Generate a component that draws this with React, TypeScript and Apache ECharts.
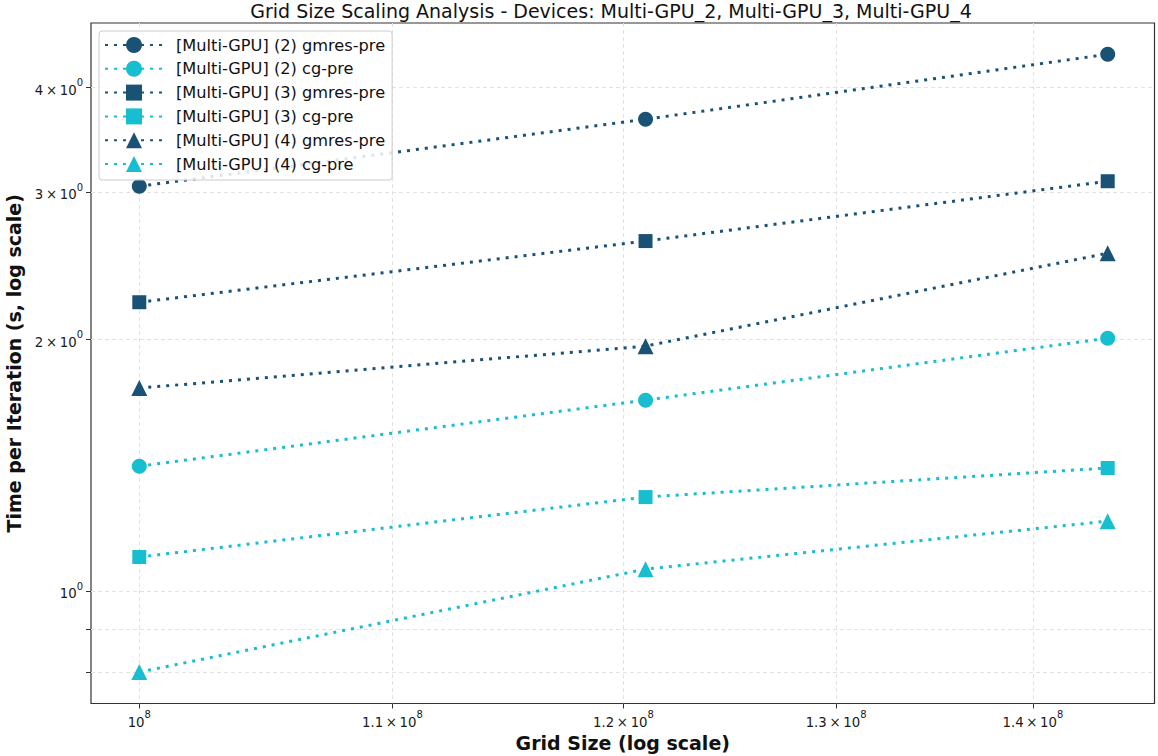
import React, { useEffect, useRef } from 'react';
import * as echarts from 'echarts';

const gridSizes = [1.0e8, 1.21e8, 1.44e8];
const seriesNames = [
  '[Multi-GPU] (2) gmres-pre',
  '[Multi-GPU] (2) cg-pre',
  '[Multi-GPU] (3) gmres-pre',
  '[Multi-GPU] (3) cg-pre',
  '[Multi-GPU] (4) gmres-pre',
  '[Multi-GPU] (4) cg-pre',
];
const gmres2 = [3.047, 3.664, 4.381];
const cg2 = [1.41, 1.691, 2.005];
const gmres3 = [2.214, 2.62, 3.089];
const cg3 = [1.098, 1.295, 1.403];
const gmres4 = [1.748, 1.962, 2.534];
const cg4 = [0.8, 1.062, 1.212];
const seriesValues = [gmres2, cg2, gmres3, cg3, gmres4, cg4];
const seriesSymbols = ['circle', 'circle', 'rect', 'rect', 'triangle', 'triangle'];
const symbolSizes = [15, 15, 14, 14, 16, 16];
const seriesColors = ['#1a5276', '#17becf', '#1a5276', '#17becf', '#1a5276', '#17becf'];

const xTicks = [1.0e8, 1.1e8, 1.2e8, 1.3e8, 1.4e8];
const yTicks = [0.8, 0.9, 1, 2, 3, 4];
const yLabelTicks = [1, 2, 3, 4];

const FONT = '"DejaVu Sans", sans-serif';

function fmtX(v: number): string {
  const m = Math.round((v / 1e8) * 10) / 10;
  if (m === 1) return '{b|10}{s|8}';
  return `{b|${m.toFixed(1)}\u2009×\u200910}{s|8}`;
}
function fmtY(v: number): string {
  const m = Math.round(v * 10) / 10;
  if (m === 1) return '{b|10}{s|0}';
  return `{b|${m}\u2009×\u200910}{s|0}`;
}

const labelRich = {
  b: { fontFamily: FONT, fontSize: 13.3, color: '#1a1a1a', lineHeight: 19, verticalAlign: 'bottom' },
  s: { fontFamily: FONT, fontSize: 10, color: '#1a1a1a', lineHeight: 11, verticalAlign: 'top' },
};

export default function App() {
  const ref = useRef<HTMLDivElement>(null);
  useEffect(() => {
    if (!ref.current) return;
    const chart = echarts.init(ref.current, undefined, { renderer: 'svg' });
    const splitStyle = { show: true, lineStyle: { color: '#e2e2e2', width: 1, type: [4, 3] as any } };
    chart.setOption({
      animation: false,
      backgroundColor: '#ffffff',
      textStyle: { fontFamily: FONT },
      title: {
        text: 'Grid Size Scaling Analysis - Devices: Multi-GPU_2, Multi-GPU_3, Multi-GPU_4',
        left: 611,
        textAlign: 'center',
        top: 0,
        padding: [1, 0, 0, 0],
        textStyle: { fontFamily: FONT, fontSize: 19, fontWeight: 'normal', color: '#111' },
      },
      legend: {
        orient: 'vertical',
        left: 99,
        top: 31,
        padding: [4, 7, 6, 5],
        itemWidth: 58,
        itemHeight: 20,
        itemGap: 3.8,
        backgroundColor: 'rgba(255,255,255,0.85)',
        borderColor: '#cccccc',
        borderWidth: 1,
        borderRadius: 3,
        textStyle: { fontFamily: FONT, fontSize: 16.2, color: '#111', lineHeight: 20, padding: [0, 0, 0, 8] },
        data: seriesNames,
      },
      grid: {
        left: 91,
        top: 23,
        width: 1063.5,
        height: 680.5,
        show: true,
        borderColor: '#333',
        borderWidth: 1.2,
        backgroundColor: 'transparent',
        containLabel: false,
        outerBoundsMode: 'none',
      },
      xAxis: {
        type: 'log',
        logBase: 10,
        min: 0.98198e8,
        max: 1.4656e8,
        name: 'Grid Size (log scale)',
        nameLocation: 'middle',
        nameGap: 29,
        nameTextStyle: { fontFamily: FONT, fontSize: 19, fontWeight: 'bold', color: '#111' },
        axisLine: { show: false },
        axisTick: { show: true, customValues: xTicks, length: 5, inside: false, lineStyle: { color: '#333' } },
        axisLabel: {
          customValues: xTicks,
          formatter: fmtX,
          margin: 6,
          rich: labelRich,
        },
        splitLine: splitStyle,
        minorTick: { show: false },
        minorSplitLine: { show: false },
      },
      yAxis: {
        type: 'log',
        logBase: 10,
        min: 0.7337,
        max: 4.775,
        name: 'Time per Iteration (s, log scale)',
        nameLocation: 'middle',
        nameGap: 57,
        nameTextStyle: { fontFamily: FONT, fontSize: 19, fontWeight: 'bold', color: '#111' },
        axisLine: { show: false },
        axisTick: { show: true, customValues: yTicks, length: 5, inside: false, lineStyle: { color: '#333' } },
        axisLabel: {
          customValues: yLabelTicks,
          formatter: fmtY,
          margin: 8,
          rich: labelRich,
        },
        splitLine: splitStyle,
        minorTick: { show: false },
        minorSplitLine: { show: false },
      },
      series: seriesNames.map((name, i) => ({
        name,
        type: 'line',
        data: gridSizes.map((x, j) => [x, seriesValues[i][j]]),
        symbol: seriesSymbols[i],
        symbolSize: symbolSizes[i],
        showSymbol: true,
        itemStyle: { color: seriesColors[i], opacity: 1 },
        lineStyle: { color: seriesColors[i], width: 3, type: [3, 6] },
        z: 3,
      })),
    });
    return () => chart.dispose();
  }, []);
  return <div ref={ref} style={{ position: 'fixed', left: 0, top: 0, width: 1158, height: 756 }} />;
}
